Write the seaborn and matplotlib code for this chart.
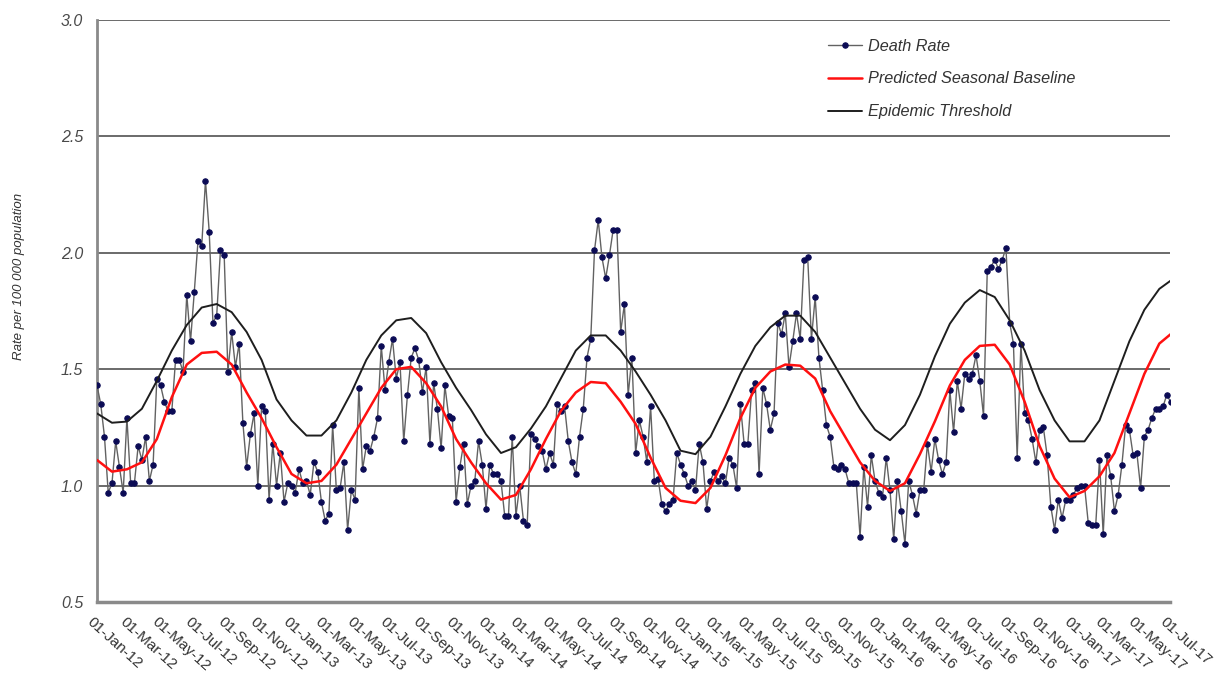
import matplotlib
matplotlib.use("Agg")
import matplotlib.pyplot as plt
import matplotlib.transforms as mtransforms
import seaborn as sns
import numpy as np
import pandas as pd

# --- weekly death rate (per 100 000), Jan 2012 - Jul 2017 ---
death_rate = [
    1.43, 1.35, 1.21, 0.97, 1.01, 1.19, 1.08, 0.97, 1.29, 1.01, 1.01, 1.17,
    1.11, 1.21, 1.02, 1.09, 1.46, 1.43, 1.36, 1.32, 1.32, 1.54, 1.54, 1.49,
    1.82, 1.62, 1.83, 2.05, 2.03, 2.31, 2.09, 1.70, 1.73, 2.01, 1.99, 1.49,
    1.66, 1.51, 1.61, 1.27, 1.08, 1.22, 1.31, 1.00, 1.34, 1.32, 0.94, 1.18,
    1.00, 1.14, 0.93, 1.01, 1.00, 0.97, 1.07, 1.01, 1.02, 0.96, 1.10, 1.06,
    0.93, 0.85, 0.88, 1.26, 0.98, 0.99, 1.10, 0.81, 0.98, 0.94, 1.42, 1.07,
    1.17, 1.15, 1.21, 1.29, 1.60, 1.41, 1.53, 1.63, 1.46, 1.53, 1.19, 1.39,
    1.55, 1.59, 1.54, 1.40, 1.51, 1.18, 1.44, 1.33, 1.16, 1.43, 1.30, 1.29,
    0.93, 1.08, 1.18, 0.92, 1.00, 1.02, 1.19, 1.09, 0.90, 1.09, 1.05, 1.05,
    1.02, 0.87, 0.87, 1.21, 0.87, 1.00, 0.85, 0.83, 1.22, 1.20, 1.17, 1.15,
    1.07, 1.14, 1.09, 1.35, 1.32, 1.34, 1.19, 1.10, 1.05, 1.21, 1.33, 1.55,
    1.63, 2.01, 2.14, 1.98, 1.89, 1.99, 2.10, 2.10, 1.66, 1.78, 1.39, 1.55,
    1.14, 1.28, 1.21, 1.10, 1.34, 1.02, 1.03, 0.92, 0.89, 0.92, 0.94, 1.14,
    1.09, 1.05, 1.00, 1.02, 0.98, 1.18, 1.10, 0.90, 1.02, 1.06, 1.02, 1.04,
    1.01, 1.12, 1.09, 0.99, 1.35, 1.18, 1.18, 1.41, 1.44, 1.05, 1.42, 1.35,
    1.24, 1.31, 1.70, 1.65, 1.74, 1.51, 1.62, 1.74, 1.63, 1.97, 1.98, 1.63,
    1.81, 1.55, 1.41, 1.26, 1.21, 1.08, 1.07, 1.09, 1.07, 1.01, 1.01, 1.01,
    0.78, 1.08, 0.91, 1.13, 1.02, 0.97, 0.95, 1.12, 0.98, 0.77, 1.02, 0.89,
    0.75, 1.02, 0.96, 0.88, 0.98, 0.98, 1.18, 1.06, 1.20, 1.11, 1.05, 1.10,
    1.41, 1.23, 1.45, 1.33, 1.48, 1.46, 1.48, 1.56, 1.45, 1.30, 1.92, 1.94,
    1.97, 1.93, 1.97, 2.02, 1.70, 1.61, 1.12, 1.61, 1.31, 1.28, 1.20, 1.10,
    1.24, 1.25, 1.13, 0.91, 0.81, 0.94, 0.86, 0.94, 0.94, 0.96, 0.99, 1.00,
    1.00, 0.84, 0.83, 0.83, 1.11, 0.79, 1.13, 1.04, 0.89, 0.96, 1.09, 1.26,
    1.24, 1.13, 1.14, 0.99, 1.21, 1.24, 1.29, 1.33, 1.33, 1.34, 1.39, 1.36,
]
first_week = "2012-01-01"

# --- smooth curves, read every 4 weeks ---
curve_weeks = [
    0, 4, 8, 12, 16, 20, 24, 28, 32, 36, 40, 44, 48, 52, 56, 60, 64, 68,
    72, 76, 80, 84, 88, 92, 96, 100, 104, 108, 112, 116, 120, 124, 128, 132,
    136, 140, 144, 148, 152, 156, 160, 164, 168, 172, 176, 180, 184, 188,
    192, 196, 200, 204, 208, 212, 216, 220, 224, 228, 232, 236, 240, 244,
    248, 252, 256, 260, 264, 268, 272, 276, 280, 284, 287,
]
baseline = [
    1.11, 1.06, 1.07, 1.10, 1.20, 1.38, 1.52, 1.57, 1.575, 1.52, 1.40, 1.29,
    1.165, 1.05, 1.01, 1.02, 1.09, 1.20, 1.31, 1.42, 1.50, 1.51, 1.44, 1.34,
    1.20, 1.10, 1.01, 0.94, 0.96, 1.07, 1.20, 1.32, 1.40, 1.445, 1.44, 1.36,
    1.265, 1.12, 0.99, 0.935, 0.925, 0.99, 1.13, 1.29, 1.42, 1.49, 1.52, 1.515,
    1.46, 1.32, 1.21, 1.10, 1.02, 0.977, 1.01, 1.135, 1.276, 1.43, 1.54, 1.60,
    1.605, 1.52, 1.36, 1.17, 1.03, 0.95, 0.977, 1.04, 1.14, 1.31, 1.48, 1.61,
    1.65,
]
threshold = [
    1.31, 1.27, 1.275, 1.33, 1.45, 1.58, 1.69, 1.765, 1.78, 1.745, 1.66, 1.54,
    1.37, 1.28, 1.215, 1.215, 1.28, 1.40, 1.54, 1.645, 1.71, 1.72, 1.655, 1.53,
    1.42, 1.325, 1.22, 1.14, 1.165, 1.245, 1.34, 1.46, 1.58, 1.645, 1.645, 1.58,
    1.49, 1.39, 1.28, 1.15, 1.135, 1.21, 1.34, 1.48, 1.60, 1.68, 1.73, 1.73,
    1.66, 1.55, 1.44, 1.33, 1.24, 1.195, 1.26, 1.39, 1.555, 1.695, 1.786, 1.84,
    1.81, 1.71, 1.58, 1.41, 1.28, 1.19, 1.19, 1.28, 1.45, 1.62, 1.755, 1.845,
    1.88,
]

tick_labels = [
    "01-Jan-12", "01-Mar-12", "01-May-12", "01-Jul-12", "01-Sep-12", "01-Nov-12",
    "01-Jan-13", "01-Mar-13", "01-May-13", "01-Jul-13", "01-Sep-13", "01-Nov-13",
    "01-Jan-14", "01-Mar-14", "01-May-14", "01-Jul-14", "01-Sep-14", "01-Nov-14",
    "01-Jan-15", "01-Mar-15", "01-May-15", "01-Jul-15", "01-Sep-15", "01-Nov-15",
    "01-Jan-16", "01-Mar-16", "01-May-16", "01-Jul-16", "01-Sep-16", "01-Nov-16",
    "01-Jan-17", "01-Mar-17", "01-May-17", "01-Jul-17",
]
y_ticks = [0.5, 1.0, 1.5, 2.0, 2.5, 3.0]

# --- data frames ---
start = pd.Timestamp(first_week)
rate_dates = pd.date_range(start, periods=len(death_rate), freq="7D")
curve_dates = start + pd.to_timedelta(np.array(curve_weeks) * 7, unit="D")
df_rate = pd.DataFrame({"date": rate_dates, "rate": death_rate})
df_curve = pd.DataFrame({"date": curve_dates, "baseline": baseline, "threshold": threshold})

sns.set_theme(style="white")
plt.rcParams['font.family'] = ['Liberation Sans', 'DejaVu Sans']

W, H = 1217, 675
fig = plt.figure(figsize=(W / 100, H / 100), dpi=100)
ax = fig.add_axes([97 / W, 1 - 602 / H, (1170 - 97) / W, (602 - 20) / H])

sns.lineplot(data=df_rate, x="date", y="rate", ax=ax, estimator=None,
             color="#626262", lw=1.0, marker="o", markersize=3.9,
             markerfacecolor="#0b0b55", markeredgecolor="#0b0b55",
             label="Death Rate", zorder=3)
sns.lineplot(data=df_curve, x="date", y="baseline", ax=ax, estimator=None,
             color="#ff1010", lw=1.8, label="Predicted Seasonal Baseline", zorder=4)
sns.lineplot(data=df_curve, x="date", y="threshold", ax=ax, estimator=None,
             color="#1e1e1e", lw=1.4, label="Epidemic Threshold", zorder=4)

# --- axes ---
ax.set_xlim(rate_dates[0], pd.to_datetime(tick_labels[-1], format="%d-%b-%y"))
ax.set_ylim(y_ticks[0], y_ticks[-1])
ax.set_yticks(y_ticks)
ax.set_yticklabels([f"{v:.1f}" for v in y_ticks],
                   fontsize=11.5, style="italic", color="#4a4a4a")
ax.tick_params(axis="y", direction="in", length=3, color="#888888", pad=10)

ax.set_xticks(pd.to_datetime(tick_labels, format="%d-%b-%y"))
ax.set_xticklabels(tick_labels, rotation=-42, ha="left", va="top",
                   rotation_mode="anchor", fontsize=11, color="#333333")
ax.tick_params(axis="x", length=0, pad=9)
shift = mtransforms.ScaledTranslation(-2 / 72, 0, fig.dpi_scale_trans)
for lab in ax.get_xticklabels():
    lab.set_transform(lab.get_transform() + shift)

ax.yaxis.grid(True, color="#6a6a6a", lw=1.4)
ax.xaxis.grid(False)
ax.set_axisbelow(True)

for side in ["top", "right"]:
    ax.spines[side].set_visible(False)
ax.spines["left"].set_color("#8a8a8a")
ax.spines["left"].set_linewidth(2)
ax.spines["bottom"].set_color("#8a8a8a")
ax.spines["bottom"].set_linewidth(2.5)

ax.set_xlabel("")
ax.set_ylabel("Rate per 100 000 population", fontsize=9.5, style="italic", color="#333333")
ax.yaxis.set_label_coords(-0.067, 0.56)

ax.legend(loc="upper left", bbox_to_anchor=(0.681, 0.968), frameon=False,
          prop={"style": "italic", "size": 11.7}, labelcolor="#333333",
          labelspacing=1.1, handlelength=2.1, handletextpad=0.35,
          borderaxespad=0, borderpad=0)

plt.savefig("out.png", dpi=100)
